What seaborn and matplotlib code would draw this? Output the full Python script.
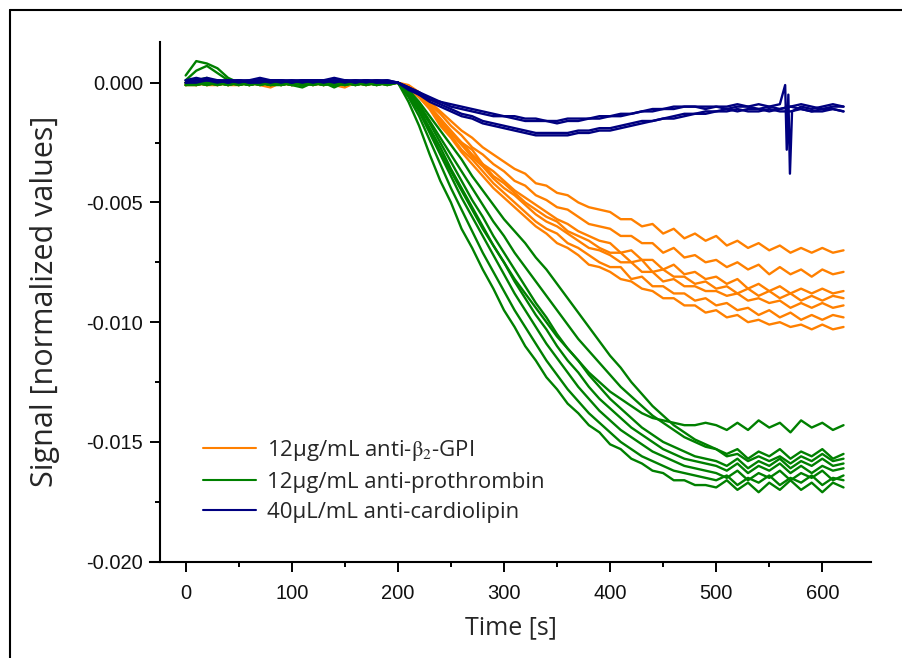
import matplotlib
matplotlib.use("Agg")
import matplotlib.pyplot as plt
import seaborn as sns
import pandas as pd
from matplotlib.lines import Line2D
from matplotlib.ticker import MultipleLocator, FormatStrFormatter

sns.set_theme(style="white")
plt.rcParams["font.family"] = ["Liberation Sans", "DejaVu Sans"]
plt.rcParams["axes.unicode_minus"] = False
plt.rcParams["mathtext.fontset"] = "stix"

# ---------------- data (signal in units of 1e-4) ----------------
SCALE = 1e-4
TIME = [0, 10, 20, 30, 40, 50, 60, 70, 80, 90, 100, 110, 120, 130, 140, 150, 160, 170, 180, 190,
        200, 210, 220, 230, 240, 250, 260, 270, 280, 290, 300, 310, 320, 330, 340, 350, 360, 370,
        380, 390, 400, 410, 420, 430, 440, 450, 460, 470, 480, 490, 500, 510, 520, 530, 540, 550,
        560, 570, 580, 590, 600, 610, 620]

LABEL_B2GPI = "12µg/mL anti-$\\mathrm{\\beta}_{2}$-GPI"
LABEL_PROTH = "12µg/mL anti-prothrombin"
LABEL_CARDIO = "40µL/mL anti-cardiolipin"

B2GPI_RUNS = [
    [0, -1, 0, -1, 0, 1, 0, -1, 0, 0, -1, 0, 1, 0, -1, 0, 1, 0, 1, 0] +
    [0, -1, -4, -8, -12, -16, -20, -23, -27, -30, -33, -36, -38, -42, -43, -46, -47, -50, -52, -53] +
    [-54, -57, -57, -60, -59, -63, -61, -65, -63, -66, -64, -68, -66, -69, -67, -70, -68, -71, -69, -71, -69, -71, -70],
    [-1, 0, -1, 0, -1, 0, 0, -1, -2, 0, 0, -1, 0, -1, 0, 0, -1, 0, 0, -1] +
    [0, -2, -5, -9, -13, -18, -22, -27, -30, -34, -37, -41, -43, -47, -49, -52, -53, -56, -59, -60] +
    [-61, -64, -64, -67, -67, -71, -69, -73, -72, -75, -74, -77, -75, -78, -76, -80, -77, -80, -78, -81, -78, -80, -79],
    [0, 0, -1, -1, 0, 0, -1, 0, 0, -1, 0, 0, -1, 0, 0, 1, 0, -1, 0, 0] +
    [0, -2, -5, -10, -15, -20, -25, -28, -34, -37, -41, -45, -48, -51, -54, -57, -59, -62, -64, -66] +
    [-67, -71, -70, -74, -74, -78, -76, -80, -79, -82, -81, -84, -82, -86, -84, -87, -85, -88, -86, -88, -86, -88, -87],
    [-1, -1, 0, 0, -1, -1, 0, 0, -1, 0, -1, -1, 0, 0, -1, -2, 0, 0, -1, 0] +
    [0, -2, -6, -10, -15, -21, -25, -30, -34, -39, -42, -46, -50, -53, -56, -58, -62, -64, -66, -69] +
    [-71, -71, -75, -74, -79, -78, -81, -81, -84, -83, -86, -85, -88, -86, -89, -87, -90, -88, -91, -89, -91, -89, -90],
    [0, -1, 0, 0, 0, -1, 0, 1, 0, -1, 0, 0, 0, -1, 0, 0, 0, 1, 0, 0] +
    [0, -2, -6, -10, -16, -21, -26, -31, -35, -40, -44, -47, -51, -55, -58, -60, -63, -66, -69, -70] +
    [-72, -75, -75, -79, -79, -83, -82, -85, -85, -87, -87, -89, -88, -91, -90, -92, -91, -94, -92, -94, -92, -94, -93],
    [-1, 0, 0, -1, 0, 0, -1, 0, 0, 0, -1, 0, -1, 0, 0, -1, 0, 0, 1, 0] +
    [0, -2, -6, -11, -17, -22, -28, -32, -37, -42, -46, -50, -54, -58, -61, -63, -67, -69, -72, -75] +
    [-77, -77, -82, -81, -85, -85, -88, -88, -91, -90, -93, -92, -95, -94, -97, -95, -98, -96, -99, -97, -99, -97, -98],
    [0, 0, -1, 0, -1, 0, 0, 0, -1, 0, 0, -1, 0, 0, -1, 0, 0, -1, 0, 0] +
    [0, -2, -6, -11, -18, -23, -29, -34, -39, -44, -48, -52, -56, -60, -63, -67, -69, -72, -76, -77] +
    [-79, -82, -83, -86, -87, -90, -90, -93, -93, -96, -95, -98, -97, -100, -99, -101, -100, -102, -101, -103, -101, -103, -102],
]

PROTH_RUNS = [
    [3, 9, 8, 6, 2, 0, -1, 0, -1, 0, 0, -1, 0, 1, -1, 0, 0, -1, 0, 0] +
    [0, -8, -18, -30, -41, -50, -61, -69, -78, -86, -95, -102, -110, -116, -123, -128, -134, -138, -143, -146,
     -151, -153, -157, -159, -162, -163, -166, -166, -168, -168] +
    [-169, -166, -170, -167, -171, -167, -170, -166, -170, -167, -171, -167, -169],
    [1, 5, 7, 4, 1, -1, 0, -1, 0, 0, -1, 0, 0, -1, 0, -1, 0, 0, -1, 0] +
    [0, -6, -14, -24, -34, -44, -53, -62, -71, -79, -87, -95, -102, -109, -116, -122, -128, -133, -138, -142,
     -146, -150, -153, -156, -158, -160, -162, -163, -164, -165] +
    [-166, -164, -168, -165, -167, -164, -168, -165, -167, -164, -168, -165, -166],
    [0, 1, 2, 0, -1, 0, -1, 0, -1, 0, -1, -2, 0, -1, 0, 0, -1, 0, 0, 0] +
    [0, -5, -12, -21, -30, -39, -48, -56, -64, -72, -80, -88, -95, -102, -109, -115, -121, -127, -132, -137,
     -141, -145, -148, -151, -154, -156, -158, -160, -161, -162] +
    [-163, -165, -162, -166, -163, -165, -162, -166, -163, -165, -162, -166, -164],
    [-1, 0, 0, -1, 0, -1, 0, 0, -1, -1, 0, 0, -1, 0, -2, 0, 0, -1, 0, -1] +
    [0, -4, -11, -19, -27, -36, -44, -52, -60, -68, -75, -83, -90, -97, -103, -110, -116, -121, -127, -132,
     -136, -140, -144, -147, -150, -153, -155, -157, -158, -159] +
    [-160, -162, -159, -163, -160, -162, -159, -163, -160, -163, -160, -162, -161],
    [0, 0, -1, 0, -1, 0, 0, -1, 0, 0, -1, 0, 0, 1, 0, -1, 0, 0, -1, 0] +
    [0, -4, -10, -17, -25, -33, -41, -49, -56, -64, -71, -78, -85, -92, -98, -105, -111, -116, -122, -127,
     -132, -136, -140, -144, -147, -150, -152, -154, -156, -157] +
    [-158, -160, -157, -161, -158, -160, -157, -161, -158, -160, -157, -160, -159],
    [-1, -1, 0, 0, -1, 0, -1, 0, 0, -1, 0, -1, 0, 0, -1, 0, -1, 0, 0, -1] +
    [0, -3, -8, -14, -20, -26, -32, -39, -45, -51, -57, -62, -67, -73, -78, -84, -90, -96, -102, -108,
     -114, -119, -125, -130, -135, -139, -143, -146, -149, -151] +
    [-153, -156, -155, -158, -156, -158, -156, -159, -156, -158, -155, -158, -157],
    [0, -1, 0, -1, 0, 0, -1, 0, -1, 0, 0, 0, -1, 0, 0, -1, 0, 1, 0, 0] +
    [0, -4, -9, -16, -23, -30, -37, -44, -51, -58, -64, -71, -77, -83, -89, -95, -101, -107, -112, -117,
     -122, -127, -131, -135, -139, -142, -145, -148, -150, -152] +
    [-153, -155, -153, -157, -154, -156, -153, -157, -154, -156, -153, -157, -155],
    [-1, 0, -1, 0, 0, -1, 0, 0, 0, -1, 0, -1, 0, -1, 0, 0, -1, 0, -1, 0] +
    [0, -5, -12, -20, -29, -37, -45, -53, -61, -68, -75, -82, -88, -94, -100, -106, -111, -116, -121, -125,
     -129, -132, -135, -138, -140, -141, -142, -143, -143, -142] +
    [-143, -145, -142, -145, -141, -144, -142, -146, -141, -144, -142, -145, -143],
]

CARDIO_RUNS = [
    [1, 1, 2, 1, 0, 1, 1, 2, 1, 1, 0, 1, 1, 1, 2, 1, 0, 1, 1, 1] +
    [0, -2, -4, -6, -8, -9, -10, -11, -12, -13, -14, -14, -15, -15, -16, -16, -15, -15, -15, -14,
     -14, -13, -13, -12, -11, -11, -10, -10, -10, -10, -10,
     -10, -9, -10, -11, -10, -9, -10, -10, -11, -10, -9, -10],
    [0, 1, 1, 0, 1, 1, 0, 1, 1, 0, 1, 0, 1, 1, 0, 1, 1, 0, 1, 0] +
    [0, -2, -4, -7, -8, -10, -11, -12, -13, -14, -14, -15, -16, -16, -16, -17, -16, -16, -15, -15,
     -14, -14, -13, -12, -12, -11, -11, -10, -10, -11, -10,
     -11, -10, -10, -9, -10, -11, -10, -9, -10, -11, -10, -10],
    [1, 2, 1, 1, 1, 0, 1, 1, 0, 1, 1, 1, 0, 1, 1, 0, 1, 1, 0, 1] +
    [0, -2, -5, -7, -9, -11, -13, -14, -16, -17, -18, -19, -20, -21, -21, -21, -21, -20, -20, -19,
     -19, -18, -17, -16, -16, -15, -14, -13, -13, -12, -12,
     -11, -12, -11, -11, -12, -11, -10, -11, -12, -11, -11, -12],
    [0, 0, 1, 1, 0, 1, 0, 0, 1, 1, 0, 1, 1, 0, 1, 1, 0, 1, 0, 0] +
    [0, -3, -5, -8, -10, -12, -14, -15, -17, -18, -19, -20, -21, -22, -22, -22, -22, -21, -21, -20,
     -20, -19, -18, -17, -16, -15, -15, -14, -13, -13, -12,
     -12, -11, -12, -12, -11, -12, -12, -11, -12, -12, -11, -12],
]
# short disturbance on the first cardiolipin run
SPIKE_TIME = [565, 566.5, 568, 569.5, 571.5]
SPIKE_VALUE = [-1, -28, -5, -38, -12]

COLORS = {LABEL_B2GPI: "#FF8000", LABEL_PROTH: "#008000", LABEL_CARDIO: "#000080"}

# ---------------- long-form table ----------------
rows = []
for label, runs, tag in [(LABEL_B2GPI, B2GPI_RUNS, "b"), (LABEL_PROTH, PROTH_RUNS, "p"),
                         (LABEL_CARDIO, CARDIO_RUNS, "c")]:
    for k, run in enumerate(runs):
        assert len(run) == len(TIME), (tag, k, len(run))
        pts = list(zip(TIME, run))
        if tag == "c" and k == 0:
            pts = [p for p in pts if not (562 < p[0] < 574)] + list(zip(SPIKE_TIME, SPIKE_VALUE))
            pts.sort()
        for t, v in pts:
            rows.append({"time": t, "signal": v * SCALE, "antibody": label, "run": f"{tag}{k}"})
df = pd.DataFrame(rows)

# ---------------- figure ----------------
fig = plt.figure(figsize=(9.03, 6.58), dpi=100)
ax = fig.add_axes([150 / 903, 1 - 561.7 / 658, (871 - 150) / 903, (561.7 - 41.7) / 658])

sns.lineplot(data=df, x="time", y="signal", hue="antibody", units="run", estimator=None,
             palette=COLORS, hue_order=[LABEL_B2GPI, LABEL_PROTH, LABEL_CARDIO],
             linewidth=1.7, legend=False, sort=False, ax=ax)

ax.set_xlim(-33.6, 645.9)
ax.set_ylim(-0.020, 0.00171)
ax.spines["left"].set_position(("data", -24.2))
ax.spines["top"].set_visible(False)
ax.spines["right"].set_visible(False)
for s in ("left", "bottom"):
    ax.spines[s].set_linewidth(1.5)
    ax.spines[s].set_color("black")

ax.xaxis.set_major_locator(MultipleLocator(100))
ax.xaxis.set_minor_locator(MultipleLocator(50))
ax.yaxis.set_major_locator(MultipleLocator(0.005))
ax.yaxis.set_minor_locator(MultipleLocator(0.0025))
ax.yaxis.set_major_formatter(FormatStrFormatter("%.3f"))
ax.tick_params(which="major", direction="out", length=7, width=1.4, color="black",
               labelsize=14.5, labelcolor="#111111", bottom=True, left=True)
ax.tick_params(axis="x", which="major", pad=9)
ax.tick_params(axis="y", which="major", pad=5)
ax.tick_params(which="minor", direction="out", length=3.5, width=1.4, color="black",
               bottom=True, left=True)

ax.set_xlabel("Time [s]", fontsize=18, family=["Open Sans", "DejaVu Sans"], labelpad=9)
ax.set_ylabel("Signal [normalized values]", fontsize=22, family=["Open Sans", "DejaVu Sans"], labelpad=19)
ax.grid(False)

handles = [Line2D([], [], color=COLORS[l], lw=1.5) for l in (LABEL_B2GPI, LABEL_PROTH, LABEL_CARDIO)]
leg = ax.legend(handles, [LABEL_B2GPI, LABEL_PROTH, LABEL_CARDIO], loc="upper left",
                bbox_to_anchor=(203 / 903, 1 - 438 / 658), bbox_transform=fig.transFigure,
                frameon=False, borderpad=0, borderaxespad=0, handlelength=2.4, handletextpad=0.5,
                labelspacing=0.4, prop={"family": ["Open Sans", "DejaVu Sans"], "size": 16})

# page frame (top and left edges)
fig.add_artist(Line2D([10 / 903, 1], [1 - 10 / 658, 1 - 10 / 658], transform=fig.transFigure,
                      color="black", lw=1.5))
fig.add_artist(Line2D([10 / 903, 10 / 903], [0, 1 - 10 / 658], transform=fig.transFigure,
                      color="black", lw=1.5))

fig.savefig("out.png", dpi=100, facecolor="white")
